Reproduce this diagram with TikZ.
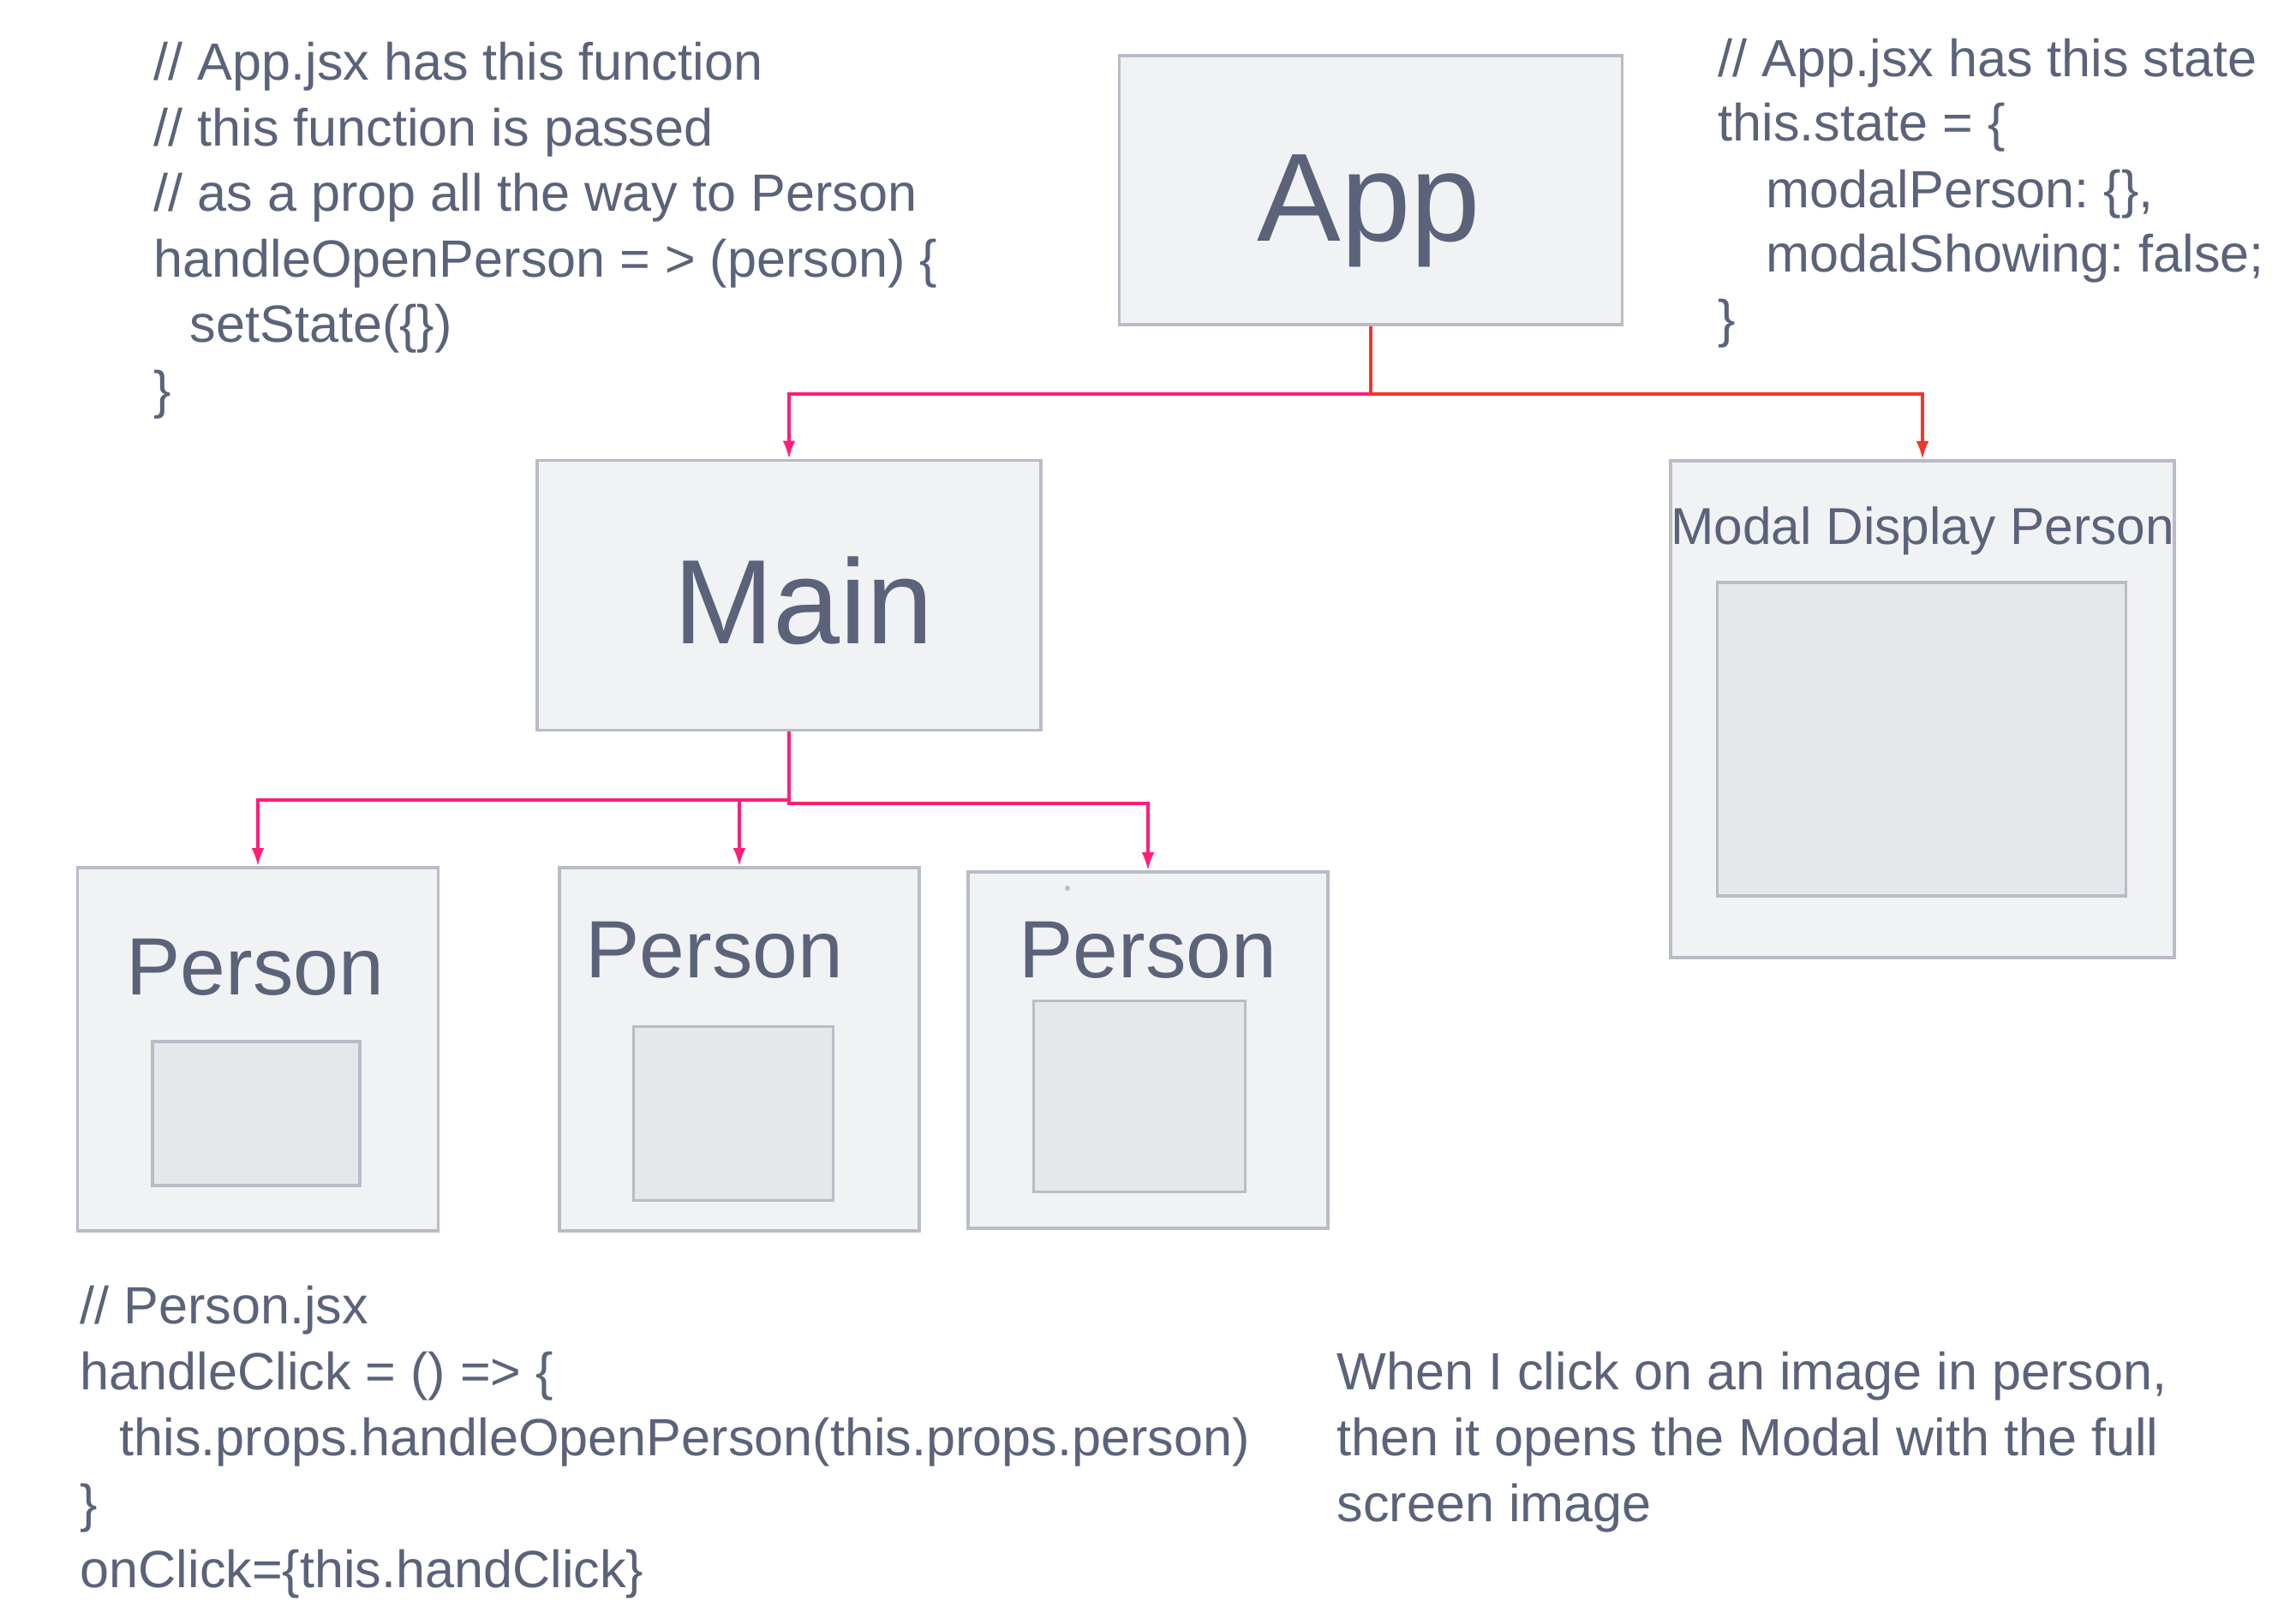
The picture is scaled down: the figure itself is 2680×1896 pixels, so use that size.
\documentclass[tikz,border=0pt]{standalone}
\usepackage{fontspec}
\setmainfont{Liberation Sans}
\usepackage{tikz}
\usetikzlibrary{arrows.meta}
\usetikzlibrary{positioning}
\frenchspacing

\definecolor{ink}{RGB}{90,99,121}
\definecolor{boxfill}{RGB}{241,242,244}
\definecolor{boxline}{RGB}{184,188,198}
\definecolor{imgfill}{RGB}{230,231,235}
\definecolor{pinkline}{RGB}{255,30,122}
\definecolor{redline}{RGB}{240,55,42}

\begin{document}
\begin{tikzpicture}[
        x=0.1mm, y=-0.1mm,
        box/.style={rectangle, draw=boxline, fill=boxfill, line width=1pt, inner sep=0pt},
        img/.style={rectangle, draw=boxline, fill=imgfill, line width=1pt, inner sep=0pt},
        title/.style={anchor=base, inner sep=0pt, text=ink},
        code/.style={anchor=base west, inner sep=0pt, text=ink, font=\fontsize{17.4}{21}\selectfont},
        link/.style={line width=1pt, -{Latex[length=6pt,width=4.2pt]}}
      ]
        \useasboundingbox[fill=white] (0,0) rectangle (2680,1896);

        % boxes
        \node[box, minimum width=58.7mm, minimum height=31.4mm]  (app)   at (1600,222)  {};
        \node[box, minimum width=58.8mm, minimum height=31.5mm]  (main)  at (921,695)   {};
        \node[box, minimum width=58.8mm, minimum height=58mm]    (modal) at (2244,828)  {};
        \node[img, minimum width=47.7mm, minimum height=36.6mm]  (modalImg) at (2243,863) {};

        \node[box, minimum width=42.1mm, minimum height=42.4mm]  (p1) at (301,1225)  {};
        \node[box, minimum width=42mm, minimum height=42.4mm]    (p2) at (863,1225)  {};
        \node[box, minimum width=42mm, minimum height=41.6mm]    (p3) at (1340,1226) {};
        \node[img, minimum width=24.2mm, minimum height=16.8mm]  (img1) at (299,1300)  {};
        \node[img, minimum width=23.3mm, minimum height=20.3mm]  (img2) at (856,1300)  {};
        \node[img, minimum width=24.7mm, minimum height=22.3mm]  (img3) at (1330,1280) {};
        \fill[boxline] (1246,1037) circle (0.3mm);

        % titles
        \node[title, font=\fontsize{41.7}{44}\selectfont]  (appText)   at (1598,282)  {App};
        \node[title, font=\fontsize{39.9}{42}\selectfont]  (mainText)  at (938,752)   {Main};
        \node[title, font=\fontsize{17.2}{20}\selectfont]  (modalText) at (2244,636)  {Modal Display Person};
        \node[title, font=\fontsize{27}{30}\selectfont]    (p1Text)    at (298,1161)  {Person};
        \node[title, font=\fontsize{27}{30}\selectfont]    (p2Text)    at (834,1141)  {Person};
        \node[title, font=\fontsize{27}{30}\selectfont]    (p3Text)    at (1340,1141) {Person};

        % connectors
        \draw[link, pinkline] (app.south) -- ++(0,79) -| (main.north);
        \draw[link, redline]  (app.south) -- ++(0,79) -| (modal.north);
        \draw[link, pinkline] (main.south) -- ++(0,80) -| (p1.north);
        \draw[link, pinkline] (main.south) -- ++(0,80) -| (p2.north);
        \draw[link, pinkline] (main.south) -- ++(0,84) -| (p3.north);

        % notes
        \node[code] (appNote1) at (179,94)  {// App.jsx has this function};
        \node[code] (appNote2) at (179,171) {// this function is passed};
        \node[code] (appNote3) at (179,247) {// as a prop all the way to Person};
        \node[code] (appNote4) at (179,324) {handleOpenPerson = > (person) \{};
        \node[code] (appNote5) at (221,400) {setState(\{\})};
        \node[code] (appNote6) at (179,477) {\}};

        \node[code] (stateNote1) at (2005,90)  {// App.jsx has this state};
        \node[code] (stateNote2) at (2005,165) {this.state = \{};
        \node[code] (stateNote3) at (2061,243) {modalPerson: \{\},};
        \node[code] (stateNote4) at (2061,318) {modalShowing: false;};
        \node[code] (stateNote5) at (2005,394) {\}};

        \node[code] (personNote1) at (93,1545)  {// Person.jsx};
        \node[code] (personNote2) at (93,1622)  {handleClick = () => \{};
        \node[code] (personNote3) at (139,1699) {this.props.handleOpenPerson(this.props.person)};
        \node[code] (personNote4) at (93,1776)  {\}};
        \node[code] (personNote5) at (93,1853)  {onClick=\{this.handClick\}};

        \node[code] (clickNote1) at (1560,1622) {When I click on an image in person,};
        \node[code] (clickNote2) at (1560,1699) {then it opens the Modal with the full};
        \node[code] (clickNote3) at (1560,1776) {screen image};
      \end{tikzpicture}
\end{document}
